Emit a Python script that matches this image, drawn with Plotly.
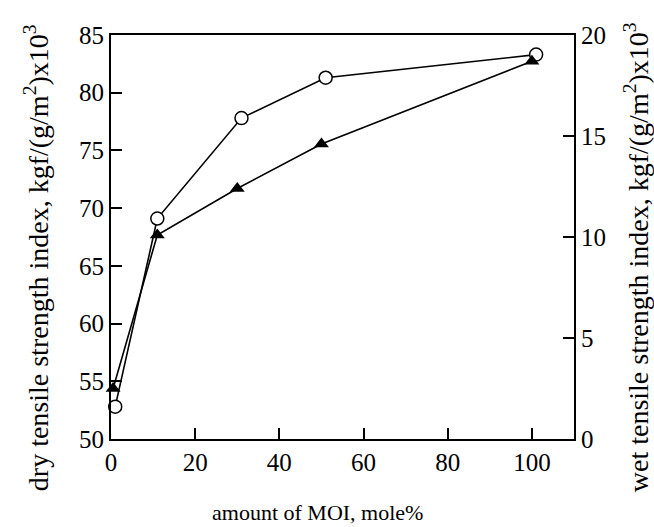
import plotly.graph_objects as go

mole_dry = [1, 11, 31, 51, 101]
dry_strength = [52.8, 69.1, 77.8, 81.3, 83.3]
mole_wet = [0.5, 11, 30, 50, 100]
wet_strength = [2.5, 10.1, 12.4, 14.6, 18.7]

x_ticks = [0, 20, 40, 60, 80, 100]
y1_ticks = [50, 55, 60, 65, 70, 75, 80, 85]
y2_ticks = [0, 5, 10, 15, 20]

FONT = "Liberation Serif"
TICK = 25
TITLE_Y = 28

fig = go.Figure()
fig.add_trace(go.Scatter(
    x=mole_dry, y=dry_strength, mode="lines+markers",
    line=dict(color="black", width=1.6),
    marker=dict(symbol="circle", size=13, color="white",
                line=dict(color="black", width=1.5)),
    showlegend=False, yaxis="y", cliponaxis=False))
fig.add_trace(go.Scatter(
    x=mole_wet, y=wet_strength, mode="lines+markers",
    line=dict(color="black", width=1.6),
    marker=dict(symbol="triangle-up", size=13, color="black",
                line=dict(color="black", width=0)),
    showlegend=False, yaxis="y2", cliponaxis=False))

axis_common = dict(ticks="inside", ticklen=11, tickwidth=1.5, tickcolor="black",
                   showline=True, linecolor="black", linewidth=2,
                   showgrid=False, zeroline=False,
                   tickfont=dict(family=FONT, size=TICK))

fig.update_layout(
    width=654, height=527,
    margin=dict(l=111, r=80, t=35, b=88),
    paper_bgcolor="white", plot_bgcolor="white",
    font=dict(family=FONT, color="black", size=21),
    xaxis=dict(range=[0, 110], tickvals=x_ticks, mirror=True, **axis_common),
    yaxis=dict(range=[50, 85], tickvals=y1_ticks, **axis_common),
    yaxis2=dict(range=[0, 20], tickvals=y2_ticks, overlaying="y", side="right",
                **axis_common),
    annotations=[
        dict(text="amount of MOI, mole%", xref="paper", yref="paper",
             x=0.446, y=-0.183, showarrow=False, font=dict(family=FONT, size=22),
             xanchor="center", yanchor="middle"),
        dict(text="dry tensile strength index, kgf/(g/m<sup>2</sup>)x10<sup>3</sup>",
             xref="paper", yref="paper", x=-0.162, y=0.45, textangle=-90,
             showarrow=False, font=dict(family=FONT, size=TITLE_Y),
             xanchor="center", yanchor="middle"),
        dict(text="wet tensile strength index, kgf/(g/m<sup>2</sup>)x10<sup>3</sup>",
             xref="paper", yref="paper", x=1.134, y=0.45, textangle=-90,
             showarrow=False, font=dict(family=FONT, size=TITLE_Y),
             xanchor="center", yanchor="middle"),
    ],
)

fig.write_html("out.html", config={"displayModeBar": False},
               post_script="document.body.style.margin='0';document.body.style.overflow='hidden';")
